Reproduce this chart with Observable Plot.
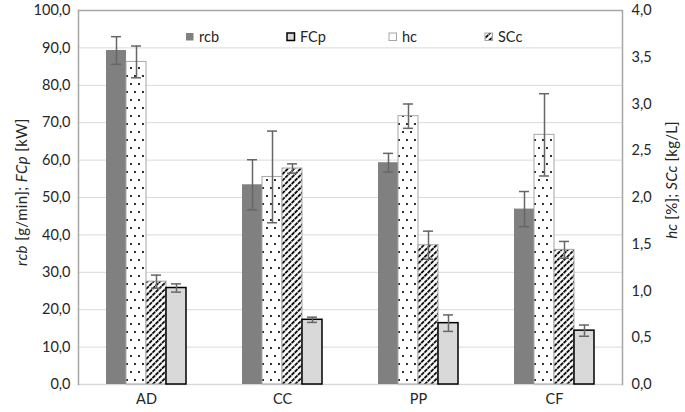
<!DOCTYPE html>
<html>
<head>
<meta charset="utf-8">
<script src="https://cdn.jsdelivr.net/npm/d3@7"></script>
<script src="https://cdn.jsdelivr.net/npm/@observablehq/plot@0.6"></script>
<style>
  html, body { margin: 0; padding: 0; background: #fff; }
  #chart { width: 685px; height: 412px; }
  svg { font-family: Lato, "Open Sans", sans-serif; }
</style>
</head>
<body>
<div id="chart"></div>
<script>
// ---- data ----
const groups = ["AD", "CC", "PP", "CF"];
const barOrder = ["rcb", "hc", "SCc", "FCp"];
const legendOrder = ["rcb", "FCp", "hc", "SCc"];
// left axis series
const rcb    = [89.3, 53.4, 59.3, 46.9];
const rcbErr = [3.7, 6.7, 2.5, 4.7];
const FCp    = [25.8, 17.3, 16.4, 14.4];
const FCpErr = [1.1, 0.7, 2.2, 1.5];
// right axis series
const hc     = [3.45, 2.22, 2.87, 2.67];
const hcErr  = [0.17, 0.49, 0.13, 0.44];
const SCc    = [1.10, 2.31, 1.49, 1.44];
const SCcErr = [0.07, 0.05, 0.15, 0.09];
// ticks
const leftTicks  = [0, 10, 20, 30, 40, 50, 60, 70, 80, 90, 100];
const rightTicks = [0, 0.5, 1, 1.5, 2, 2.5, 3, 3.5, 4];
const rightFactor = 100 / 4; // right axis 0–4 maps onto left 0–100

const seriesDefs = {
  rcb: {vals: rcb, errs: rcbErr, k: 1},
  FCp: {vals: FCp, errs: FCpErr, k: 1},
  hc:  {vals: hc,  errs: hcErr,  k: rightFactor},
  SCc: {vals: SCc, errs: SCcErr, k: rightFactor}
};
const rows = [];
for (const s of barOrder) {
  const d = seriesDefs[s];
  groups.forEach((g, i) => rows.push({
    group: g, series: s,
    v: d.vals[i] * d.k,
    lo: (d.vals[i] - d.errs[i]) * d.k,
    hi: (d.vals[i] + d.errs[i]) * d.k
  }));
}
const styles = {
  rcb: {fill: "#808080", stroke: "none", strokeWidth: 0, swatch: "#808080"},
  hc:  {fill: "url(#dots)", stroke: "#a6a6a6", strokeWidth: 1, swatch: "#fff"},
  SCc: {fill: "url(#hatch)", stroke: "#a6a6a6", strokeWidth: 1, swatch: "url(#hatch)"},
  FCp: {fill: "#d9d9d9", stroke: "#000", strokeWidth: 1.5, swatch: "#d9d9d9"}
};
const fmt = v => v.toFixed(1).replace(".", ",");

const barMarks = barOrder.map(s => Plot.barY(rows.filter(r => r.series === s), {
  fx: "group", x: "series", y: "v",
  fill: styles[s].fill, stroke: styles[s].stroke, strokeWidth: styles[s].strokeWidth,
  style: "filter: drop-shadow(1.5px 1px 1.2px rgba(0,0,0,0.35))"
}));

const plot = Plot.plot({
  width: 685, height: 412,
  marginLeft: 77, marginRight: 62, marginTop: 10, marginBottom: 28,
  style: {fontSize: "14.5px", color: "#262626", fontFamily: "Lato, 'Open Sans', sans-serif"},
  fx: {domain: groups, padding: 0, label: null, axis: "bottom", tickSize: 0, tickPadding: 9},
  x: {domain: barOrder, paddingInner: 0, paddingOuter: 1.33, axis: null},
  y: {domain: [0, 100], label: null},
  marks: [
    Plot.ruleY(leftTicks.slice(1, -1), {stroke: "#d9d9d9", strokeWidth: 1}),
    Plot.ruleY([0], {stroke: "#d9d9d9", strokeWidth: 1.5}),
    Plot.ruleY([100], {stroke: "#a6a6a6", strokeWidth: 1.5}),
    Plot.frame({anchor: "left", facetAnchor: "left", stroke: "#a6a6a6", strokeWidth: 1.5}),
    Plot.frame({anchor: "right", facetAnchor: "right", stroke: "#a6a6a6", strokeWidth: 1.5}),
    Plot.axisY(leftTicks, {anchor: "left", tickSize: 0, tickPadding: 8, tickFormat: fmt, label: null, fontSize: 14.5}),
    Plot.axisY(rightTicks.map(t => t * rightFactor), {anchor: "right", tickSize: 0, tickPadding: 9,
      tickFormat: t => fmt(t / rightFactor), label: null, fontSize: 14.5}),
    ...barMarks,
    Plot.ruleX(rows, {fx: "group", x: "series", y1: "lo", y2: "hi", stroke: "#666", strokeWidth: 1.5}),
    Plot.tickY(rows, {fx: "group", x: "series", y: "lo", stroke: "#666", strokeWidth: 1.5, insetLeft: 5, insetRight: 5}),
    Plot.tickY(rows, {fx: "group", x: "series", y: "hi", stroke: "#666", strokeWidth: 1.5, insetLeft: 5, insetRight: 5})
  ]
});

document.getElementById("chart").appendChild(plot);

// ---- patterns, legend, axis titles ----
const svg = d3.select(plot);
const defs = svg.insert("defs", ":first-child");
const dots = defs.append("pattern").attr("id", "dots").attr("patternUnits", "userSpaceOnUse")
  .attr("width", 8).attr("height", 16);
dots.append("rect").attr("width", 8).attr("height", 16).attr("fill", "#fff");
dots.append("circle").attr("cx", 2).attr("cy", 4).attr("r", 1.1).attr("fill", "#000");
dots.append("circle").attr("cx", 6).attr("cy", 12).attr("r", 1.1).attr("fill", "#000");

const hatch = defs.append("pattern").attr("id", "hatch").attr("patternUnits", "userSpaceOnUse")
  .attr("width", 4.5).attr("height", 4.5).attr("patternTransform", "rotate(45)");
hatch.append("rect").attr("width", 4.5).attr("height", 4.5).attr("fill", "#fff");
hatch.append("line").attr("x1", 1).attr("y1", 0).attr("x2", 1).attr("y2", 4.5)
  .attr("stroke", "#000").attr("stroke-width", 1.8).attr("stroke-dasharray", "2.6 0.8");

const legendX = [186, 287, 389, 485];
const lg = svg.append("g").attr("font-size", 14.5).attr("fill", "#262626").attr("text-anchor", "start");
legendOrder.forEach((s, i) => {
  lg.append("rect").attr("x", legendX[i]).attr("y", 33).attr("width", 7.5).attr("height", 7.5)
    .attr("fill", styles[s].swatch)
    .attr("stroke", s === "FCp" ? "#000" : (s === "rcb" ? "none" : "#a6a6a6"))
    .attr("stroke-width", s === "FCp" ? 1.5 : 1);
  lg.append("text").attr("x", legendX[i] + 13).attr("y", 42).attr("text-anchor", "start").text(s);
});

const lt = svg.append("text").attr("transform", "translate(27,192) rotate(-90)")
  .attr("text-anchor", "middle").attr("font-size", 15).attr("letter-spacing", 0.4).attr("fill", "#262626");
lt.append("tspan").attr("font-style", "italic").text("rcb");
lt.append("tspan").text(" [g/min]; ");
lt.append("tspan").attr("font-style", "italic").text("FCp");
lt.append("tspan").text(" [kW]");

const rt = svg.append("text").attr("transform", "translate(677,180) rotate(-90)")
  .attr("text-anchor", "middle").attr("font-size", 15).attr("letter-spacing", 0.2).attr("fill", "#262626");
rt.append("tspan").attr("font-style", "italic").text("hc");
rt.append("tspan").text(" [%]; ");
rt.append("tspan").attr("font-style", "italic").text("SCc");
rt.append("tspan").text(" [kg/L]");
</script>
</body>
</html>
